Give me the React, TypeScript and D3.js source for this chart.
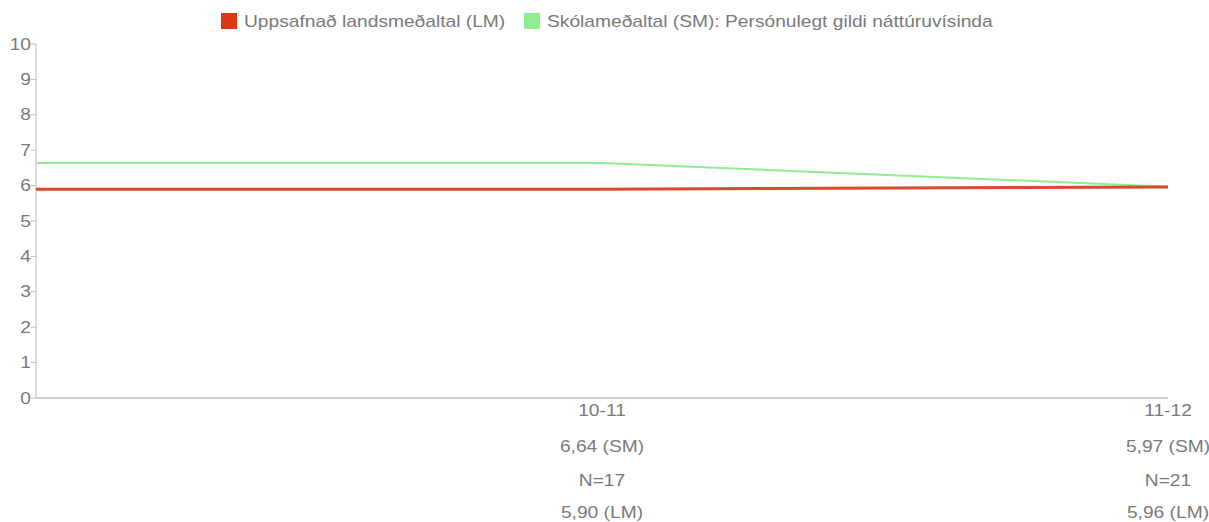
import React from "react";
import * as d3 from "d3";

const periods = ["10-11", "11-12"];
const smValues = [6.64, 5.97];
const lmValues = [5.9, 5.96];
const nValues = [17, 21];
const smLabels = ["6,64 (SM)", "5,97 (SM)"];
const lmLabels = ["5,90 (LM)", "5,96 (LM)"];
const yTicks = [0, 1, 2, 3, 4, 5, 6, 7, 8, 9, 10];
const legendItems = [
  { label: "Uppsafnað landsmeðaltal (LM)", color: "#dc3912" },
  { label: "Skólameðaltal (SM): Persónulegt gildi náttúruvísinda", color: "#90ee90" },
];

const W = 1209;
const H = 522;
const FONT = "'Liberation Sans', Arial, sans-serif";
const SX = 1.2;

function T({ x, y, anchor, children, size = 16, fill = "#7a7a7a" }: any) {
  return (
    <text
      transform={`translate(${x},${y}) scale(${SX},1)`}
      textAnchor={anchor}
      fontFamily={FONT}
      fontSize={size}
      fill={fill}
    >
      {children}
    </text>
  );
}

export default function App() {
  const x = d3.scaleLinear().domain([0, periods.length]).range([36, 1168]);
  const y = d3.scaleLinear().domain([0, 10]).range([398, 44]);

  const smData = [smValues[0], ...smValues];
  const lmData = [lmValues[0], ...lmValues];
  const line = d3
    .line<number>()
    .x((_, i) => x(i))
    .y((d) => y(d));

  return (
    <div style={{ position: "absolute", left: 0, top: 0 }}>
      <svg width={W} height={H} style={{ display: "block", background: "#fff" }}>
        {/* legend */}
        <rect x={221} y={13} width={16} height={16} fill={legendItems[0].color} />
        <T x={244} y={27} anchor="start">{legendItems[0].label}</T>
        <rect x={524} y={13} width={16} height={16} fill={legendItems[1].color} />
        <T x={547} y={27} anchor="start">{legendItems[1].label}</T>

        {/* y axis */}
        <line x1={36} x2={36} y1={y(10)} y2={y(0)} stroke="#bbb" strokeWidth={1} />
        {yTicks.map((t) => (
          <g key={t}>
            <line x1={31} x2={36} y1={y(t)} y2={y(t)} stroke="#bbb" />
            <T x={31} y={y(t) + 5.5} anchor="end">{t}</T>
          </g>
        ))}
        {/* x axis */}
        <line x1={36} x2={x(periods.length)} y1={y(0)} y2={y(0)} stroke="#bbb" strokeWidth={1.5} />

        {/* lines */}
        <path d={line(smData) || ""} fill="none" stroke="#90ee90" strokeWidth={2} />
        <path d={line(lmData) || ""} fill="none" stroke="#d9492c" strokeWidth={3} />

        {/* x labels */}
        {periods.map((p, i) => {
          const cx = x(i + 1);
          return (
            <g key={p}>
              <T x={cx} y={416} anchor="middle">{p}</T>
              <T x={cx} y={452} anchor="middle">{smLabels[i]}</T>
              <T x={cx} y={486} anchor="middle">{`N=${nValues[i]}`}</T>
              <T x={cx} y={518} anchor="middle">{lmLabels[i]}</T>
            </g>
          );
        })}
      </svg>
    </div>
  );
}
